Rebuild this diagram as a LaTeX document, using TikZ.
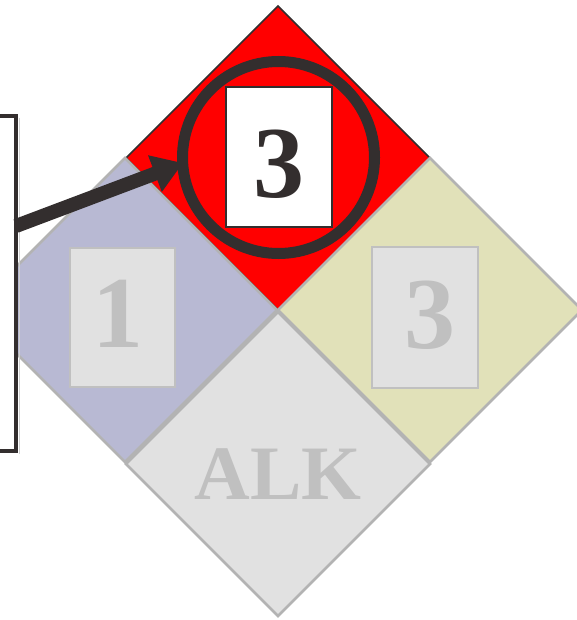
\documentclass[tikz,border=0pt]{standalone}
\usepackage{fontspec}
\setmainfont{Liberation Serif}
\usetikzlibrary{arrows.meta,calc}
\definecolor{dark}{HTML}{332E2E}
\definecolor{hred}{HTML}{FF0000}
\definecolor{hblue}{HTML}{B8B9D3}
\definecolor{hyellow}{HTML}{E1E1B9}
\definecolor{hgray}{HTML}{E1E1E1}
\definecolor{edgegray}{HTML}{B3B3B3}
\definecolor{txtgray}{HTML}{C0C0C0}
\tikzset{
  diamondedge/.style={draw=edgegray,line width=2.5bp,line join=miter},
  graybox/.style={draw=txtgray,line width=2bp,fill=hgray},
  bignum/.style={inner sep=0pt,anchor=base,font=\bfseries\fontsize{102.4}{102.4}\selectfont},
}
\begin{document}
\begin{tikzpicture}[x=1bp,y=-1bp]
\useasboundingbox (0,0) rectangle (577,620);
\clip (0,0) rectangle (577,620);
% diamonds
\coordinate (ct) at (278,158);
\coordinate (cl) at (125,310);
\coordinate (cr) at (430,310);
\coordinate (cb) at (278,464);
\def\dd{152}
\fill[hred,draw=dark,line width=1.5bp] ($(ct)+(0,-\dd)$) -- ($(ct)+(\dd,0)$) -- ($(ct)+(0,\dd)$) -- ($(ct)+(-\dd,0)$) -- cycle;
\path[diamondedge,fill=hblue] ($(cl)+(0,-\dd)$) -- ($(cl)+(\dd,0)$) -- ($(cl)+(0,\dd)$) -- ($(cl)+(-\dd,0)$) -- cycle;
\path[diamondedge,fill=hyellow] ($(cr)+(0,-\dd)$) -- ($(cr)+(\dd,0)$) -- ($(cr)+(0,\dd)$) -- ($(cr)+(-\dd,0)$) -- cycle;
\path[diamondedge,fill=hgray] ($(cb)+(0,-\dd)$) -- ($(cb)+(\dd,0)$) -- ($(cb)+(0,\dd)$) -- ($(cb)+(-\dd,0)$) -- cycle;
% boxes
\draw[fill=white,draw=dark,line width=1.5bp] (226,87) rectangle (332,227);
\draw[graybox] (70,248) rectangle (175,387);
\draw[graybox] (372,247) rectangle (478,388);
% numbers
\node[bignum,text=dark] (nt) at (278.5,197) {3};
\node[bignum,text=txtgray] (nl) at (118,347) {1};
\node[bignum,text=txtgray] (nr) at (430,348) {3};
\node[inner sep=0pt,anchor=base,text=txtgray,font=\bfseries\fontsize{77.3}{77.3}\selectfont] (alk) at (278,499) {ALK};
% left frame
\draw[edgegray!60,line width=1bp] (19,118) -- (19,454);
\draw[fill=white,draw=dark,line width=4bp] (-10,116) rectangle (16,451);
% ring
\node[circle,draw=dark,line width=11bp,minimum size=192bp,inner sep=0pt] (ring) at (278.5,157.5) {};
% arrow
\coordinate (astart) at (16,226);
\coordinate (atip) at (183,163);
\draw[dark,line width=14bp,-{Triangle[length=30bp,width=37bp]}] (astart) -- (atip);
\end{tikzpicture}
\end{document}
